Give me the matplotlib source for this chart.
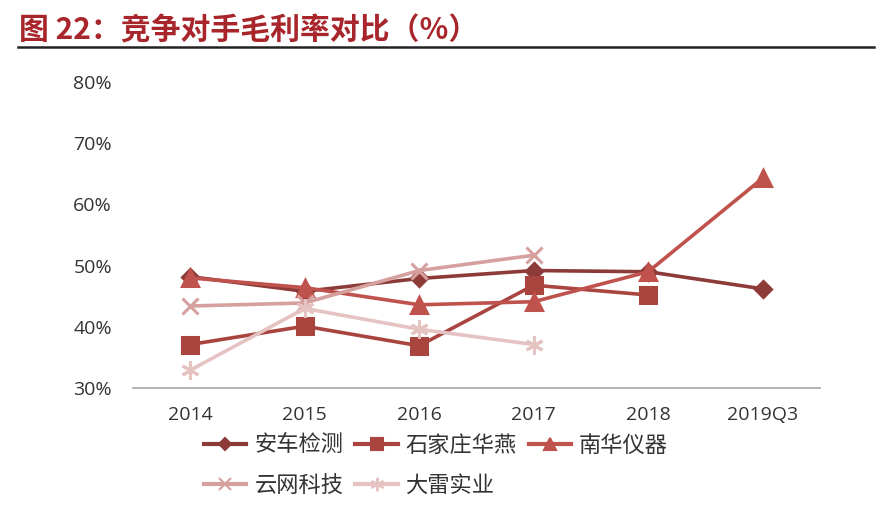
import numpy as np
import matplotlib.pyplot as plt
from matplotlib.lines import Line2D

plt.rcParams['font.family'] = ['Noto Sans CJK SC', 'DejaVu Sans']

# data (gross margin, %)
years = ['2014', '2015', '2016', '2017', '2018', '2019Q3']
anche = [48.2, 45.8, 47.9, 49.2, 49.0, 46.2]
huayan = [37.1, 40.1, 36.9, 46.8, 45.2, np.nan]
nanhua = [48.0, 46.4, 43.6, 44.1, 49.0, 64.3]
yunwang = [43.4, 43.9, 49.2, 51.7, np.nan, np.nan]
dalei = [32.9, 43.0, 39.6, 37.1, np.nan, np.nan]

names = ['安车检测', '石家庄华燕', '南华仪器', '云网科技', '大雷实业']
series = [anche, huayan, nanhua, yunwang, dalei]
colors = ['#8C3B38', '#A9443F', '#C0524D', '#D6A09F', '#E5C3C2']
markers = ['D', 's', '^', 'x', (6, 2, 0)]
msizes = [8, 11, 11, 12, 13]

fig = plt.figure(figsize=(8.86, 5.30), dpi=100)
ax = fig.add_axes([0.150, 0.268, 0.7755, 0.577])

x = np.arange(len(years))
for vals, name, c, m, ms in zip(series, names, colors, markers, msizes):
    ax.plot(x, vals, color=c, lw=2.6, marker=m, ms=ms, mew=2.2,
            mec=c, mfc=c, label=name)

ax.set_xlim(-0.5, len(years) - 0.5)
ax.set_ylim(30, 80)
ax.set_yticks(np.arange(30, 81, 10))
ax.set_yticklabels([f'{v}%' for v in range(30, 81, 10)])
ax.set_xticks(x)
ax.set_xticklabels(years)
for s in ['top', 'right', 'left']:
    ax.spines[s].set_visible(False)
ax.spines['bottom'].set_color('#A6A6A6')
ax.spines['bottom'].set_linewidth(1.2)
ax.tick_params(length=0, labelsize=14, colors='#333333')
ax.tick_params(axis='y', pad=15)
ax.tick_params(axis='x', pad=13)
for lab in ax.get_xticklabels() + ax.get_yticklabels():
    lab.set_family(['Open Sans', 'DejaVu Sans'])

handles = [Line2D([], [], color=c, lw=3, marker=m, ms=ms * 0.75, mew=1.5, mec=c, mfc=c)
           for c, m, ms in zip(colors, markers, msizes)]
# legend fills column-wise, reorder so it reads row by row
order = [0, 3, 1, 4, 2]
fig.legend([handles[i] for i in order], [names[i] for i in order],
           loc='upper left', bbox_to_anchor=(0.218, 0.202),
           ncol=3, frameon=False, fontsize=16, handlelength=1.9,
           handletextpad=0.35, columnspacing=0.55, labelspacing=0.75,
           labelcolor='#333333', borderpad=0)

fig.text(0.021, 0.943, '图 22：竞争对手毛利率对比（%）', fontsize=21.5, fontweight='bold',
         color='#A8262B', va='center', ha='left')
fig.add_artist(Line2D([0.02, 0.986], [0.912, 0.912], color='#222222', lw=1.8))

fig.savefig('out.png', dpi=100)
